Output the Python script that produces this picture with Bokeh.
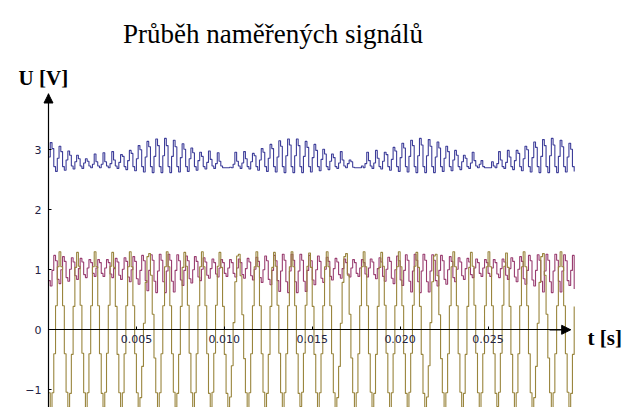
from bokeh.plotting import figure
from bokeh.models import (LinearAxis, FixedTicker, PrintfTickFormatter, Range1d,
                          Label, Arrow, NormalHead)
from bokeh.embed import file_html
from bokeh.resources import INLINE

# ---- data -------------------------------------------------------------
SAMPLE_PERIOD = 0.0001  # s

blue = [
    2.88, 3.12, 3.02, 2.72, 2.64, 2.86, 3.06, 2.97, 2.72, 2.66,
    2.83, 2.98, 2.91, 2.73, 2.68, 2.80, 2.91, 2.85, 2.73, 2.69,
    2.78, 2.85, 2.81, 2.73, 2.70, 2.76, 2.93, 2.80, 2.73, 2.70,
    2.76, 2.95, 2.80, 2.73, 2.70, 2.77, 2.97, 2.83, 2.73, 2.69,
    2.79, 2.92, 2.89, 2.72, 2.67, 2.82, 2.99, 2.94, 2.72, 2.65,
    2.85, 3.07, 3.00, 2.72, 2.63, 2.88, 3.14, 3.05, 2.72, 2.62,
    2.89, 3.18, 3.07, 2.72, 2.62, 2.90, 3.19, 3.07, 2.72, 2.62,
    2.89, 3.16, 3.05, 2.72, 2.63, 2.87, 3.10, 3.01, 2.72, 2.64,
    2.85, 3.03, 2.95, 2.72, 2.66, 2.82, 2.96, 2.89, 2.72, 2.68,
    2.79, 2.98, 2.84, 2.73, 2.69, 2.77, 2.95, 2.81, 2.73, 2.70,
    2.70, 2.70, 2.70, 2.71, 2.70, 2.76, 2.96, 2.81, 2.73, 2.69,
    2.78, 2.97, 2.85, 2.72, 2.68, 2.80, 2.94, 2.90, 2.72, 2.66,
    2.83, 3.02, 2.96, 2.72, 2.64, 2.86, 3.09, 3.02, 2.72, 2.63,
    2.88, 3.15, 3.06, 2.72, 2.62, 2.90, 3.18, 3.08, 2.72, 2.62,
    2.90, 3.18, 3.07, 2.72, 2.62, 2.89, 3.14, 3.04, 2.72, 2.63,
    2.87, 3.09, 2.99, 2.72, 2.65, 2.84, 3.01, 2.93, 2.72, 2.67,
    2.81, 2.93, 2.87, 2.72, 2.69, 2.78, 2.97, 2.83, 2.73, 2.70,
    2.77, 2.83, 2.80, 2.71, 2.70, 2.70, 2.70, 2.70, 2.73, 2.70,
    2.77, 2.96, 2.82, 2.73, 2.69, 2.78, 2.99, 2.86, 2.72, 2.68,
    2.81, 2.96, 2.92, 2.72, 2.66, 2.84, 3.04, 2.98, 2.72, 2.64,
    2.87, 3.11, 3.03, 2.72, 2.63, 2.89, 3.16, 3.07, 2.72, 2.62,
    2.90, 3.19, 3.08, 2.72, 2.62, 2.90, 3.17, 3.06, 2.72, 2.62,
    2.88, 3.13, 3.03, 2.72, 2.64, 2.86, 3.06, 2.97, 2.72, 2.65,
    2.83, 2.99, 2.91, 2.72, 2.67, 2.80, 2.91, 2.86, 2.72, 2.69,
    2.78, 2.96, 2.82, 2.73, 2.70, 2.76, 2.82, 2.72, 2.70, 2.70,
    2.70, 2.70, 2.80, 2.73, 2.70, 2.77, 2.97, 2.83, 2.72, 2.69,
    2.79, 2.99, 2.88, 2.72, 2.67, 2.82, 2.99, 2.94, 2.72, 2.65,
    2.85, 3.06, 3.00, 2.72, 2.63, 2.87, 3.13, 3.04, 2.72, 2.62,
    2.89, 3.17, 3.07, 2.72, 2.62, 2.90, 3.19, 3.08, 2.72, 2.62,
    2.89, 3.16, 3.05, 2.72, 2.63, 2.88, 3.11, 3.01, 2.72, 2.64,
]

purple = [
    0.82, 0.73, 0.99, 1.24, 1.15, 0.84, 0.77, 1.00, 1.22, 1.14,
    0.87, 0.81, 1.01, 1.20, 1.13, 0.90, 0.84, 1.02, 1.19, 1.13,
    0.92, 0.87, 1.03, 1.17, 1.12, 0.94, 0.89, 1.03, 1.17, 1.12,
    0.94, 0.89, 1.03, 1.17, 1.12, 0.93, 0.87, 1.02, 1.19, 1.13,
    0.91, 0.84, 1.01, 1.20, 1.14, 0.88, 0.80, 1.00, 1.22, 1.14,
    0.85, 0.76, 0.99, 1.24, 1.15, 0.82, 0.65, 0.99, 1.25, 1.16,
    0.81, 0.62, 0.98, 1.26, 1.16, 0.80, 0.62, 0.98, 1.26, 1.16,
    0.81, 0.63, 0.99, 1.25, 1.15, 0.83, 0.74, 0.99, 1.23, 1.15,
    0.85, 0.78, 1.00, 1.22, 1.14, 0.88, 0.82, 1.01, 1.20, 1.13,
    0.91, 0.86, 1.02, 1.18, 1.12, 0.93, 0.88, 1.03, 1.17, 1.12,
    0.94, 0.89, 1.03, 1.17, 1.12, 0.94, 0.88, 1.03, 1.18, 1.12,
    0.92, 0.86, 1.02, 1.19, 1.13, 0.90, 0.83, 1.01, 1.21, 1.14,
    0.87, 0.79, 1.00, 1.23, 1.15, 0.84, 0.75, 0.99, 1.24, 1.15,
    0.82, 0.64, 0.98, 1.26, 1.16, 0.80, 0.62, 0.98, 1.26, 1.16,
    0.80, 0.62, 0.98, 1.26, 1.16, 0.81, 0.64, 0.99, 1.24, 1.15,
    0.83, 0.75, 1.00, 1.23, 1.14, 0.86, 0.79, 1.01, 1.21, 1.14,
    0.89, 0.83, 1.02, 1.19, 1.13, 0.92, 0.86, 1.02, 1.18, 1.12,
    0.93, 0.88, 1.03, 1.17, 1.12, 0.94, 0.89, 1.03, 1.17, 1.12,
    0.93, 0.88, 1.03, 1.18, 1.13, 0.92, 0.85, 1.02, 1.20, 1.13,
    0.89, 0.81, 1.01, 1.21, 1.14, 0.86, 0.77, 1.00, 1.23, 1.15,
    0.83, 0.74, 0.99, 1.25, 1.16, 0.81, 0.63, 0.98, 1.26, 1.16,
    0.80, 0.62, 0.98, 1.26, 1.16, 0.80, 0.63, 0.98, 1.25, 1.16,
    0.82, 0.73, 0.99, 1.24, 1.15, 0.84, 0.76, 1.00, 1.22, 1.14,
    0.87, 0.80, 1.01, 1.20, 1.13, 0.90, 0.84, 1.02, 1.19, 1.13,
    0.92, 0.87, 1.03, 1.18, 1.12, 0.94, 0.89, 1.03, 1.17, 1.12,
    0.94, 0.89, 1.03, 1.17, 1.12, 0.93, 0.87, 1.02, 1.18, 1.13,
    0.91, 0.84, 1.02, 1.20, 1.14, 0.88, 0.80, 1.01, 1.22, 1.14,
    0.85, 0.76, 0.99, 1.24, 1.15, 0.83, 0.73, 0.99, 1.25, 1.16,
    0.81, 0.63, 0.98, 1.26, 1.16, 0.80, 0.62, 0.98, 1.26, 1.16,
    0.81, 0.63, 0.98, 1.25, 1.15, 0.82, 0.74, 0.99, 1.24, 0.68,
]

gold = [
    -1.05, -1.30, -1.05, -0.40, 0.40, 1.05, 1.30, 1.05, 0.40, -0.40,
    -1.04, -1.29, -1.06, -0.41, 0.39, 1.04, 1.29, 1.06, 0.41, -0.39,
    -1.05, -1.30, -1.05, -0.40, 0.40, 1.05, 1.30, 1.05, 0.40, -0.40,
    -1.06, -1.29, -1.04, -0.39, 0.41, 1.06, 1.29, 1.04, 0.39, -0.41,
    -1.05, -1.30, -1.05, -0.40, 0.40, 1.05, 1.30, 1.05, 0.40, -0.40,
    -1.05, -1.30, -1.13, -0.61, 0.11, 0.79, 1.22, 1.27, 0.91, 0.26, -0.47,
    -1.05, -1.30, -1.05, -0.40, 0.40, 1.05, 1.30, 1.05, 0.40, -0.40,
    -1.04, -1.29, -1.06, -0.41, 0.39, 1.04, 1.29, 1.06, 0.41, -0.39,
    -1.05, -1.30, -1.05, -0.40, 0.40, 1.05, 1.30, 1.05, 0.40, -0.40,
    -1.06, -1.29, -1.04, -0.39, 0.41, 1.06, 1.29, 1.04, 0.39, -0.41,
    -1.06, -1.29, -1.12, -0.60, 0.12, 0.80, 1.23, 1.26, 0.90, 0.25, -0.48,
    -1.05, -1.30, -1.05, -0.40, 0.40, 1.05, 1.30, 1.05, 0.40, -0.40,
    -1.04, -1.29, -1.06, -0.41, 0.39, 1.04, 1.29, 1.06, 0.41, -0.39,
    -1.05, -1.30, -1.05, -0.40, 0.40, 1.05, 1.30, 1.05, 0.40, -0.40,
    -1.06, -1.28, -1.04, -0.39, 0.41, 1.06, 1.28, 1.04, 0.39, -0.41,
    -1.05, -1.30, -1.05, -0.40, 0.40, 1.05, 1.30, 1.05, 0.40, -0.40,
    -1.05, -1.30, -1.13, -0.61, 0.11, 0.79, 1.22, 1.27, 0.91, 0.26, -0.47,
    -1.05, -1.30, -1.05, -0.40, 0.40, 1.05, 1.30, 1.05, 0.40, -0.40,
    -1.04, -1.29, -1.06, -0.41, 0.39, 1.04, 1.29, 1.06, 0.41, -0.39,
    -1.05, -1.30, -1.05, -0.40, 0.40, 1.05, 1.30, 1.05, 0.40, -0.40,
    -1.06, -1.29, -1.04, -0.39, 0.41, 1.06, 1.29, 1.04, 0.39, -0.41,
    -1.06, -1.29, -1.12, -0.60, 0.12, 0.80, 1.23, 1.26, 0.90, 0.25, -0.48,
    -1.05, -1.30, -1.05, -0.40, 0.40, 1.05, 1.30, 1.05, 0.40, -0.40,
    -1.04, -1.29, -1.06, -0.41, 0.39, 1.04, 1.29, 1.06, 0.41, -0.39,
    -1.05, -1.30, -1.05, -0.40, 0.40, 1.05, 1.30, 1.05, 0.40, -0.40,
    -1.06, -1.28, -1.04, -0.39, 0.41, 1.06, 1.28, 1.04, 0.39, -0.41,
    -1.05, -1.30, -1.05, -0.40, 0.40, 1.05, 1.30, 1.05, 0.40, -0.40,
    -1.05, -1.30, -1.13, -0.61, 0.11, 0.79, 1.22, 1.27, 0.91, 0.26, -0.47,
    -1.05, -1.30, -1.05, -0.40, 0.40, 1.05, 1.30, 1.05, 0.40, -0.40,
    -1.04, -1.29, -1.06, -0.41, 0.39,
]

x_ticks = [0.005, 0.010, 0.015, 0.020, 0.025]
y_ticks = [-1, 0, 1, 2, 3]

title_text = "Průběh naměřených signálů"
y_label = "U [V]"
x_label = "t [s]"

colors = ["#3d3d99", "#993d70", "#99853d"]

# ---- figure -----------------------------------------------------------
W, H = 634, 407
p = figure(width=W, height=H, output_backend="svg", toolbar_location=None,
           x_axis_location=None, y_axis_location=None,
           min_border=0, min_border_left=0, min_border_right=0,
           min_border_top=0, min_border_bottom=0)
p.x_range = Range1d(-0.00273, 0.03333)
p.y_range = Range1d(-1.295, 5.488)
p.grid.visible = False
p.outline_line_color = None
p.background_fill_color = "white"
p.border_fill_color = "white"

for series, col in zip([blue, purple, gold], colors):
    ts = [round(i * SAMPLE_PERIOD, 6) for i in range(len(series))]
    p.step(ts, series, mode="after", line_color=col, line_width=1.1)

xaxis = LinearAxis(fixed_location=0, bounds=(0, 0.0297),
                   ticker=FixedTicker(ticks=x_ticks),
                   formatter=PrintfTickFormatter(format="%.3f"))
yaxis = LinearAxis(fixed_location=0, bounds=(-1.4, 3.93),
                   ticker=FixedTicker(ticks=y_ticks))
for ax in (xaxis, yaxis):
    ax.axis_line_color = "black"
    ax.axis_line_width = 1.2
    ax.major_tick_in = 3
    ax.major_tick_out = 0
    ax.minor_tick_line_color = None
    ax.major_tick_line_color = "black"
    ax.major_label_text_font = "DejaVu Sans"
    ax.major_label_text_font_size = "11px"
    ax.major_label_text_color = "#222244"
xaxis.major_label_standoff = 5
yaxis.major_label_standoff = 7
p.add_layout(xaxis, "below")
p.add_layout(yaxis, "left")

p.add_layout(Arrow(end=NormalHead(size=9, fill_color="black", line_color="black"),
                   x_start=0.0285, y_start=0, x_end=0.0297, y_end=0,
                   line_color="black", line_width=1.2))
p.add_layout(Arrow(end=NormalHead(size=9, fill_color="black", line_color="black"),
                   x_start=0, y_start=3.8, x_end=0, y_end=3.93,
                   line_color="black", line_width=1.2))

p.add_layout(Label(x=0.01277, y=4.938, text=title_text, text_align="center",
                   text_baseline="alphabetic", text_font="Liberation Serif",
                   text_font_size="27px", text_color="black"))
p.add_layout(Label(x=-0.0017, y=4.19, text=y_label, text_align="left",
                   text_baseline="alphabetic", text_font="Liberation Serif",
                   text_font_style="bold", text_font_size="21px", text_color="black"))
p.add_layout(Label(x=0.03066, y=-0.145, text=x_label, text_align="left",
                   text_baseline="alphabetic", text_font="Liberation Serif",
                   text_font_style="bold", text_font_size="21px", text_color="black"))

open("out.html", "w").write(file_html(p, INLINE))
